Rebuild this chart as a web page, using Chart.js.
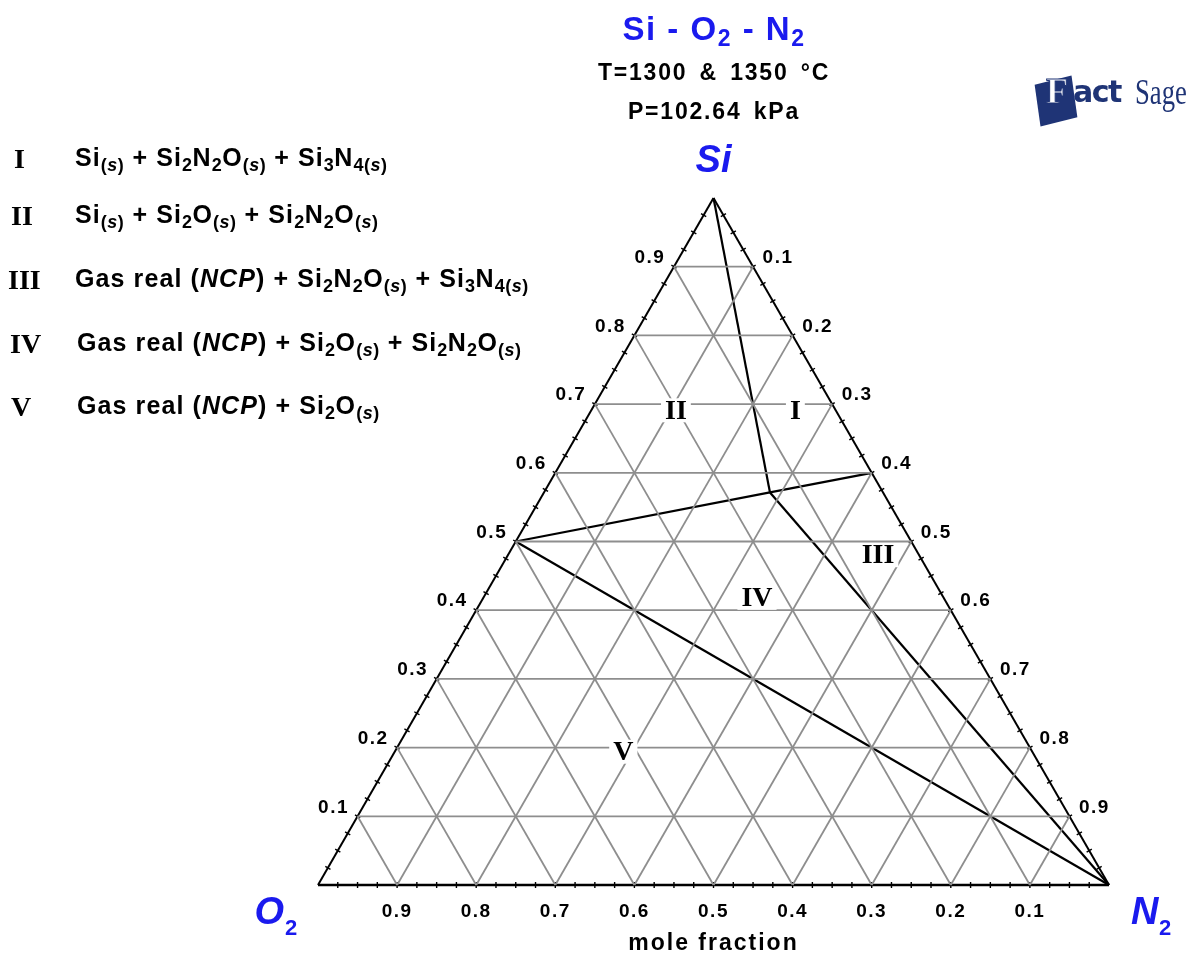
<!DOCTYPE html>
<html lang="en">
<head>
<meta charset="UTF-8">
<title>Si - O2 - N2 ternary</title>
<script src="https://cdn.jsdelivr.net/npm/chart.js@4.4.1/dist/chart.umd.min.js"></script>
<style>
    body { margin: 0; background: #fff; }
    #wrap { position: relative; width: 1203px; height: 960px; overflow: hidden; }
    #chart { position: absolute; left: 0; top: 0; }
    .abs { position: absolute; white-space: nowrap; line-height: 30px; }
    .title { left: 464px; width: 500px; text-align: center; font: bold 33px "Liberation Sans", Arial, sans-serif; letter-spacing: 1.5px; color: #1a1aee; }
    .title sub { font-size: 23px; vertical-align: -6px; line-height: 0; }
    .cond { left: 464px; width: 500px; text-align: center; font: bold 23px "Liberation Sans", Arial, sans-serif; letter-spacing: 1.8px; word-spacing: 4px; color: #000; }
    .num { font: bold 28px "Liberation Serif", "Times New Roman", serif; color: #000; }
    .txt { font: bold 25px "Liberation Sans", Arial, sans-serif; letter-spacing: 1.1px; color: #000; }
    .txt .s { font-size: 18px; vertical-align: -5px; line-height: 0; font-weight: bold; letter-spacing: 0.5px; }
    .txt .s i { font-style: italic; }
    #logo { left: 1030px; top: 68px; width: 173px; height: 62px; }
    #logo .shape { position: absolute; left: 7px; top: 12px; width: 38px; height: 42px; background: #1f3476; transform: rotate(-14deg) skewX(-6deg); }
    #logo .F { position: absolute; left: 16px; top: 2px; line-height: 52px; font: bold 36px "Liberation Serif", serif; color: #fff; -webkit-text-stroke: 1px #1f3476; }
    #logo .act { position: absolute; left: 43px; top: 6px; line-height: 52px; font: 900 30px "DejaVu Sans", sans-serif; color: #1f3476; letter-spacing: -1.5px; }
    #logo .sage { position: absolute; left: 105px; top: 3px; line-height: 52px; font: 36px "Liberation Serif", serif; color: #1f3476; transform: scaleX(0.74); transform-origin: left top; }
</style>
</head>
<body>
<div id="wrap">
    <canvas id="chart" width="1203" height="960"></canvas>

    <div class="abs title" style="top: 10px;">Si - O<sub>2</sub> - N<sub>2</sub></div>
    <div class="abs cond" style="top: 59px;">T=1300 &amp; 1350 °C</div>
    <div class="abs cond" style="top: 98px;">P=102.64 kPa</div>

    <div class="abs num" style="left: 14px; top: 143px;">I</div>
    <div class="abs txt" style="left: 75px; top: 143px;">Si<span class="s">(<i>s</i>)</span> + Si<span class="s">2</span>N<span class="s">2</span>O<span class="s">(<i>s</i>)</span> + Si<span class="s">3</span>N<span class="s">4(<i>s</i>)</span></div>
    <div class="abs num" style="left: 11px; top: 200px;">II</div>
    <div class="abs txt" style="left: 75px; top: 200px;">Si<span class="s">(<i>s</i>)</span> + Si<span class="s">2</span>O<span class="s">(<i>s</i>)</span> + Si<span class="s">2</span>N<span class="s">2</span>O<span class="s">(<i>s</i>)</span></div>
    <div class="abs num" style="left: 8px; top: 264px;">III</div>
    <div class="abs txt" style="left: 75px; top: 264px;">Gas real (<i>NCP</i>) + Si<span class="s">2</span>N<span class="s">2</span>O<span class="s">(<i>s</i>)</span> + Si<span class="s">3</span>N<span class="s">4(<i>s</i>)</span></div>
    <div class="abs num" style="left: 10px; top: 328px;">IV</div>
    <div class="abs txt" style="left: 77px; top: 328px;">Gas real (<i>NCP</i>) + Si<span class="s">2</span>O<span class="s">(<i>s</i>)</span> + Si<span class="s">2</span>N<span class="s">2</span>O<span class="s">(<i>s</i>)</span></div>
    <div class="abs num" style="left: 11px; top: 391px;">V</div>
    <div class="abs txt" style="left: 77px; top: 391px;">Gas real (<i>NCP</i>) + Si<span class="s">2</span>O<span class="s">(<i>s</i>)</span></div>

    <div class="abs" id="logo">
        <div class="shape"></div>
        <div class="F">F</div>
        <div class="act">act</div>
        <div class="sage">Sage</div>
    </div>
</div>

<script>
    // ternary geometry: x = N2 + Si/2, y = Si * H
    const H = Math.sqrt(3) / 2;

    // grid (every 0.1) and small edge ticks (every 0.025)
    const gridFractions = [0.1, 0.2, 0.3, 0.4, 0.5, 0.6, 0.7, 0.8, 0.9];
    const minorTicks = [0.025, 0.05, 0.075, 0.1, 0.125, 0.15, 0.175, 0.2, 0.225, 0.25, 0.275, 0.3,
        0.325, 0.35, 0.375, 0.4, 0.425, 0.45, 0.475, 0.5, 0.525, 0.55, 0.575, 0.6, 0.625, 0.65,
        0.675, 0.7, 0.725, 0.75, 0.775, 0.8, 0.825, 0.85, 0.875, 0.9, 0.925, 0.95, 0.975];

    // tick labels: left edge = Si, right edge = N2, bottom edge = O2
    const leftTickLabels = ['0.1', '0.2', '0.3', '0.4', '0.5', '0.6', '0.7', '0.8', '0.9'];
    const rightTickLabels = ['0.1', '0.2', '0.3', '0.4', '0.5', '0.6', '0.7', '0.8', '0.9'];
    const bottomTickLabels = ['0.1', '0.2', '0.3', '0.4', '0.5', '0.6', '0.7', '0.8', '0.9'];

    // phase points (mole fractions Si, O2, N2)
    const pointNames = ['Si', 'SiO2', 'Si2N2O', 'Si3N4', 'N2'];
    const pointSi = [1, 0.5, 0.5714, 0.6, 0];
    const pointO2 = [0, 0.5, 0.1429, 0, 0];
    const pointN2 = [0, 0, 0.2857, 0.4, 1];

    // phase boundary lines
    const lineFrom = ['Si', 'SiO2', 'Si2N2O', 'Si2N2O', 'SiO2'];
    const lineTo = ['Si2N2O', 'Si2N2O', 'Si3N4', 'N2', 'N2'];

    // region labels
    const regionNames = ['I', 'II', 'III', 'IV', 'V'];
    const regionSi = [0.691, 0.691, 0.480, 0.418, 0.194];
    const regionO2 = [0.051, 0.202, 0.052, 0.236, 0.517];
    const regionN2 = [0.258, 0.107, 0.468, 0.346, 0.289];

    function tern(si, o2, n2) {
        const s = si + o2 + n2;
        return { x: (n2 + si / 2) / s, y: (si / s) * H };
    }

    const datasets = [];

    function addLine(a, b, color, width) {
        datasets.push({
            data: [tern(a[0], a[1], a[2]), tern(b[0], b[1], b[2])],
            showLine: true,
            borderColor: color,
            borderWidth: width,
            pointRadius: 0,
            clip: false
        });
    }

    // gray grid
    gridFractions.forEach(f => {
        addLine([f, 1 - f, 0], [f, 0, 1 - f], '#8e8e8e', 1.8);
        addLine([1 - f, f, 0], [0, f, 1 - f], '#8e8e8e', 1.8);
        addLine([1 - f, 0, f], [0, 1 - f, f], '#8e8e8e', 1.8);
    });

    // triangle edges
    addLine([1, 0, 0], [0, 1, 0], '#000', 2);
    addLine([1, 0, 0], [0, 0, 1], '#000', 2);
    addLine([0, 1, 0], [0, 0, 1], '#000', 2.5);

    // small ticks on each edge
    function addTicks(points, rot) {
        datasets.push({
            data: points,
            showLine: false,
            pointStyle: 'line',
            rotation: rot,
            pointRadius: 3,
            borderColor: '#000',
            borderWidth: 1.4,
            clip: false
        });
    }
    addTicks(minorTicks.map(f => tern(f, 1 - f, 0)), 30);
    addTicks(minorTicks.map(f => tern(1 - f, 0, f)), -30);
    addTicks(minorTicks.map(f => tern(0, f, 1 - f)), 90);

    // phase boundaries
    lineFrom.forEach((name, i) => {
        const a = pointNames.indexOf(name);
        const b = pointNames.indexOf(lineTo[i]);
        addLine([pointSi[a], pointO2[a], pointN2[a]], [pointSi[b], pointO2[b], pointN2[b]], '#000', 2.2);
    });

    const labelPlugin = {
        id: 'ternaryLabels',
        afterDatasetsDraw(chart) {
            const ctx = chart.ctx;
            const xs = chart.scales.x, ys = chart.scales.y;
            const px = p => [xs.getPixelForValue(p.x), ys.getPixelForValue(p.y)];
            ctx.save();
            ctx.fillStyle = '#000';
            ctx.textBaseline = 'middle';
            ctx.textAlign = 'center';
            ctx.font = 'bold 19px "Liberation Sans", Arial, sans-serif';
            ctx.letterSpacing = '1.5px';

            gridFractions.forEach((f, i) => {
                let [x, y] = px(tern(f, 1 - f, 0));
                ctx.fillText(leftTickLabels[i], x - 24, y - 9);
                [x, y] = px(tern(1 - f, 0, f));
                ctx.fillText(rightTickLabels[i], x + 25, y - 9);
                [x, y] = px(tern(0, f, 1 - f));
                ctx.fillText(bottomTickLabels[i], x, y + 27);
            });

            // region labels on white boxes
            ctx.letterSpacing = '0px';
            ctx.font = 'bold 28px "Liberation Serif", "Times New Roman", serif';
            regionNames.forEach((r, i) => {
                const [x, y] = px(tern(regionSi[i], regionO2[i], regionN2[i]));
                const w = ctx.measureText(r).width;
                ctx.fillStyle = '#fff';
                ctx.fillRect(x - w / 2 - 4, y - 12, w + 8, 24);
                ctx.fillStyle = '#000';
                ctx.fillText(r, x, y + 1);
            });

            // corner labels
            ctx.fillStyle = '#1a1aee';
            ctx.font = 'italic bold 38px "Liberation Sans", Arial, sans-serif';
            let [x, y] = px(tern(1, 0, 0));
            ctx.fillText('Si', x, y - 36);
            [x, y] = px(tern(0, 1, 0));
            ctx.textAlign = 'right';
            ctx.fillText('O', x - 34, y + 29);
            ctx.font = 'bold 22px "Liberation Sans", Arial, sans-serif';
            ctx.textAlign = 'left';
            ctx.fillText('2', x - 33, y + 44);
            [x, y] = px(tern(0, 0, 1));
            ctx.font = 'italic bold 38px "Liberation Sans", Arial, sans-serif';
            ctx.textAlign = 'left';
            ctx.fillText('N', x + 22, y + 29);
            ctx.font = 'bold 22px "Liberation Sans", Arial, sans-serif';
            ctx.fillText('2', x + 50, y + 44);

            // axis title
            ctx.fillStyle = '#000';
            ctx.textAlign = 'center';
            ctx.font = 'bold 23px "Liberation Sans", Arial, sans-serif';
            ctx.letterSpacing = '2px';
            ctx.fillText('mole fraction', xs.getPixelForValue(0.5), ys.getPixelForValue(0) + 59);
            ctx.restore();
        }
    };

    new Chart(document.getElementById('chart').getContext('2d'), {
        type: 'scatter',
        data: { datasets: datasets },
        options: {
            responsive: false,
            animation: false,
            layout: { padding: { left: 318, right: 94, top: 198, bottom: 75 } },
            plugins: { legend: { display: false }, tooltip: { enabled: false } },
            scales: {
                x: { type: 'linear', min: 0, max: 1, display: false },
                y: { type: 'linear', min: 0, max: H, display: false }
            }
        },
        plugins: [labelPlugin]
    });
</script>
</body>
</html>
